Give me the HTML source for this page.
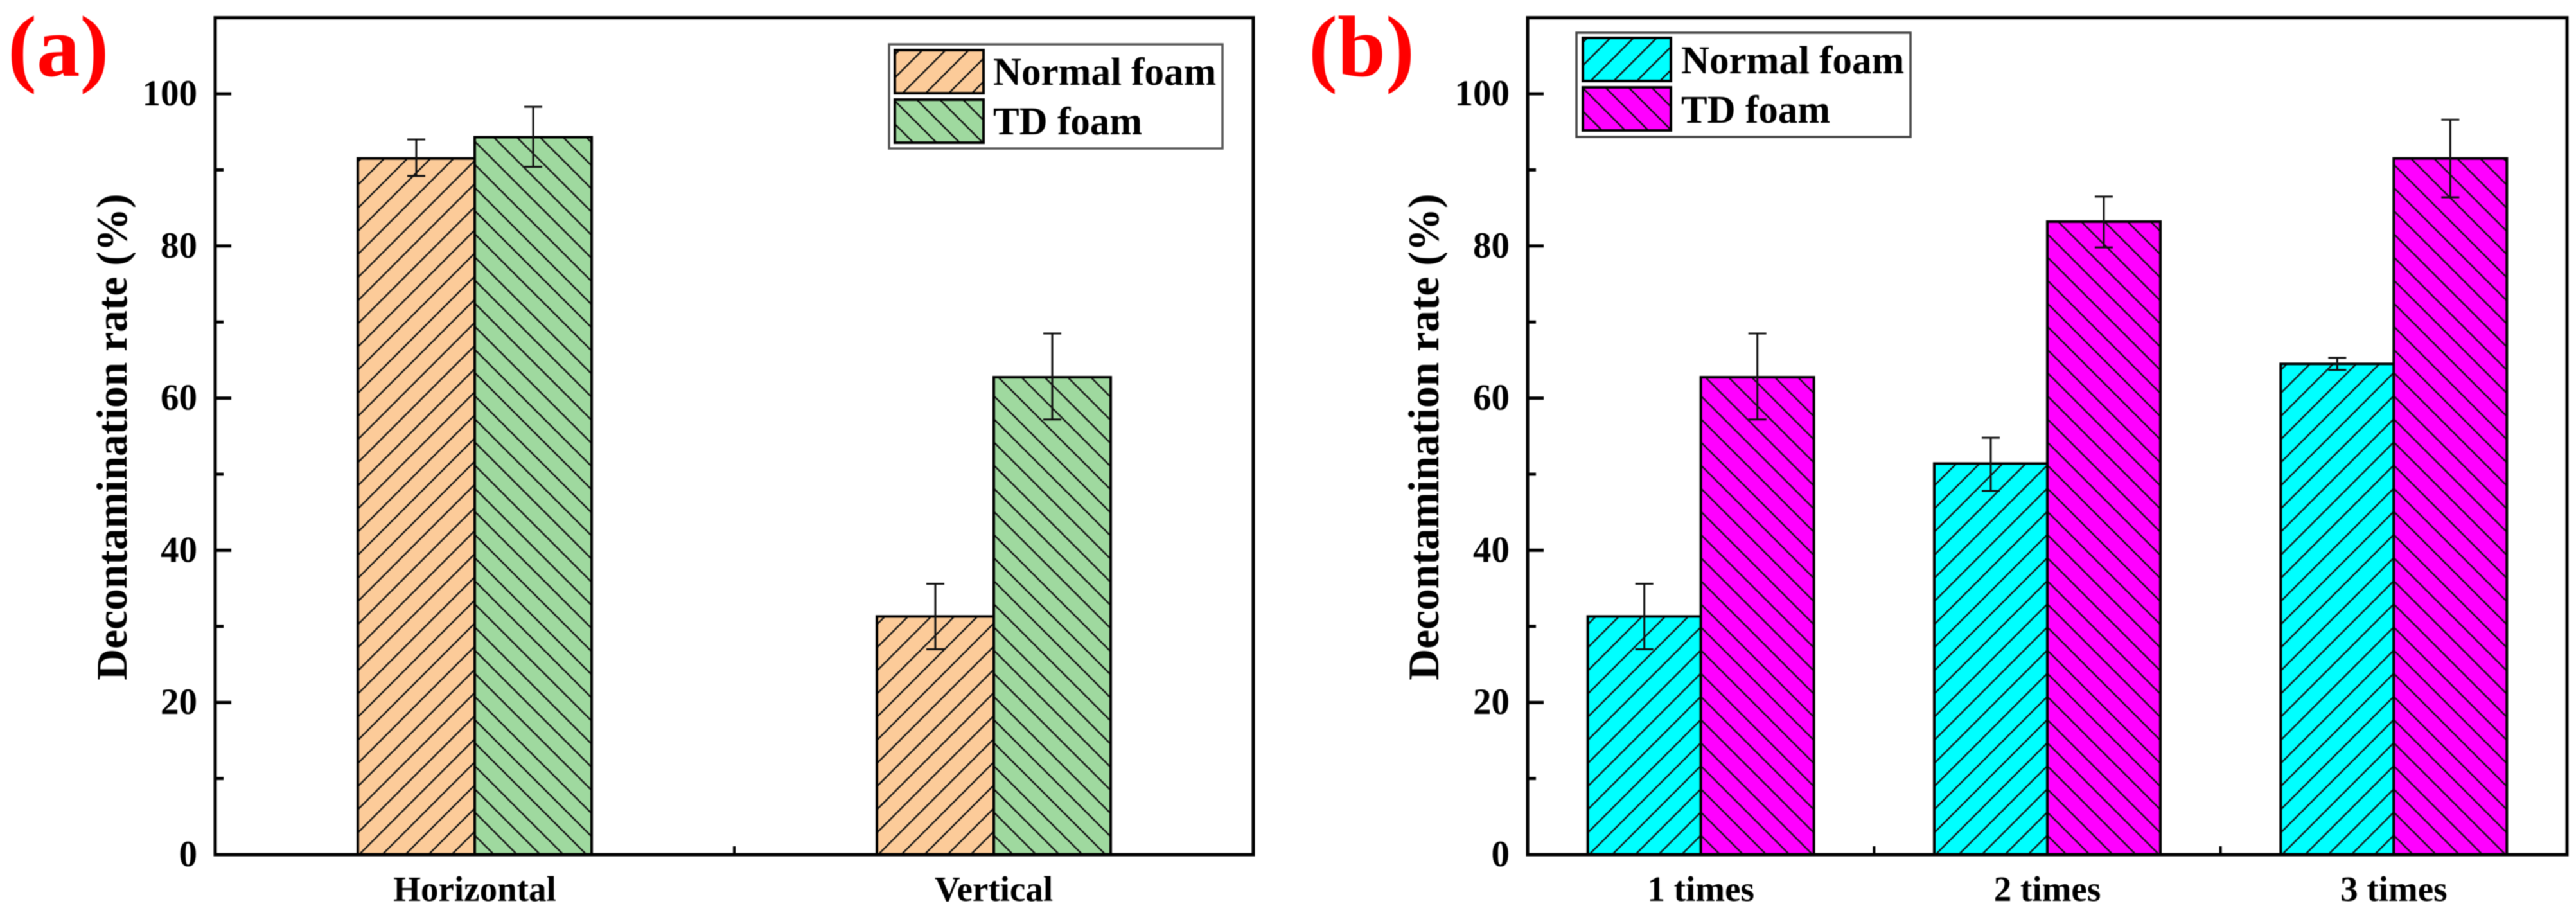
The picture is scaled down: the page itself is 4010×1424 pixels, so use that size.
<!DOCTYPE html>
<html lang="en">
<head>
<meta charset="utf-8">
<title>Decontamination rate bar charts</title>
<style>
html,body{margin:0;padding:0;background:#fff;}
svg{display:block;filter:blur(0.7px);}
text{font-family:"Liberation Serif",serif;font-weight:bold;fill:#000;}
</style>
</head>
<body>
<svg id="figure" xmlns="http://www.w3.org/2000/svg" width="4010" height="1424" viewBox="0 0 4010 1424">
  <defs id="defs">
    <pattern id="leg-a-normal" patternUnits="userSpaceOnUse" width="36" height="36" patternTransform="translate(1404 146)"><rect width="36" height="36" fill="#FCCB99"/><path d="M-4 40L40 -4" stroke="#111" stroke-width="2.5"/><path d="M-4 4L4 -4M32 40L40 32" stroke="#111" stroke-width="2.5"/></pattern>
    <pattern id="leg-a-td" patternUnits="userSpaceOnUse" width="36" height="36" patternTransform="translate(1422 222)"><rect width="36" height="36" fill="#9FD99F"/><path d="M-4 -4L40 40" stroke="#111" stroke-width="2.5"/><path d="M-4 32L4 40M32 -4L40 4" stroke="#111" stroke-width="2.5"/></pattern>
    <pattern id="leg-b-normal" patternUnits="userSpaceOnUse" width="36" height="36" patternTransform="translate(2475 127)"><rect width="36" height="36" fill="#00FFFF"/><path d="M-4 40L40 -4" stroke="#111" stroke-width="2.5"/><path d="M-4 4L4 -4M32 40L40 32" stroke="#111" stroke-width="2.5"/></pattern>
    <pattern id="leg-b-td" patternUnits="userSpaceOnUse" width="36" height="36" patternTransform="translate(2494 203)"><rect width="36" height="36" fill="#FF00FF"/><path d="M-4 -4L40 40" stroke="#111" stroke-width="2.5"/><path d="M-4 32L4 40M32 -4L40 4" stroke="#111" stroke-width="2.5"/></pattern>
  </defs>

  <g id="panel-a"></g>
  <g id="panel-b"></g>

  <text x="12" y="118" font-size="135" style="fill:#FF0000">(a)</text>
  <text x="2037" y="118" font-size="135" style="fill:#FF0000">(b)</text>

  <text transform="translate(197 680) rotate(-90)" text-anchor="middle" font-size="67.5">Decontamination rate (%)</text>
  <text transform="translate(2239 680) rotate(-90)" text-anchor="middle" font-size="67.5">Decontamination rate (%)</text>

  <g>
    <rect x="1384" y="69" width="519" height="162" fill="#fff" stroke="#555" stroke-width="3.5"/>
    <rect x="1393" y="78" width="138" height="67" fill="url(#leg-a-normal)" stroke="#000" stroke-width="4"/>
    <text x="1546" y="132" font-size="61">Normal foam</text>
    <rect x="1393" y="155" width="138" height="67" fill="url(#leg-a-td)" stroke="#000" stroke-width="4"/>
    <text x="1546" y="209" font-size="61">TD foam</text>
  </g>
  <g>
    <rect x="2454" y="51" width="520" height="162" fill="#fff" stroke="#444" stroke-width="3.5"/>
    <rect x="2464" y="59" width="137" height="67" fill="url(#leg-b-normal)" stroke="#000" stroke-width="4"/>
    <text x="2617" y="114" font-size="61">Normal foam</text>
    <rect x="2464" y="136" width="137" height="67" fill="url(#leg-b-td)" stroke="#000" stroke-width="4"/>
    <text x="2617" y="191" font-size="61">TD foam</text>
  </g>
</svg>

<script>
// ---- chart values ----
var yTickValues = [0, 20, 40, 60, 80, 100];
var yTickLabels = ['0', '20', '40', '60', '80', '100'];
var yMinorValues = [10, 30, 50, 70, 90];

var categoriesA = ['Horizontal', 'Vertical'];
var normalFoamA = [91.5, 31.3];
var normalHighA = [94.0, 35.6];
var normalLowA  = [89.2, 27.0];
var tdFoamA     = [94.3, 62.75];
var tdHighA     = [98.3, 68.5];
var tdLowA      = [90.4, 57.2];

var categoriesB = ['1 times', '2 times', '3 times'];
var normalFoamB = [31.3, 51.4, 64.5];
var normalHighB = [35.6, 54.8, 65.3];
var normalLowB  = [27.0, 47.8, 63.7];
var tdFoamB     = [62.75, 83.2, 91.5];
var tdHighB     = [68.5, 86.5, 96.6];
var tdLowB      = [57.2, 79.8, 86.4];

// ---- shared axis settings ----
var Y_MAX = 110;
var PLOT_TOP = 27.6;
var PLOT_BOTTOM = 1330;
var HATCH = 36;
var SVGNS = 'http://www.w3.org/2000/svg';

function yScale(v) {
  return PLOT_BOTTOM - (v / Y_MAX) * (PLOT_BOTTOM - PLOT_TOP);
}

function make(tag, attrs) {
  var node = document.createElementNS(SVGNS, tag);
  for (var k in attrs) node.setAttribute(k, attrs[k]);
  return node;
}

function makeHatch(id, fill, up, x0, y0) {
  var p = make('pattern', {id: id, patternUnits: 'userSpaceOnUse', width: HATCH, height: HATCH,
    patternTransform: 'translate(' + x0 + ' ' + y0 + ')'});
  p.appendChild(make('rect', {width: HATCH, height: HATCH, fill: fill}));
  var d = up
    ? 'M-4 ' + (HATCH + 4) + 'L' + (HATCH + 4) + ' -4M-4 4L4 -4M' + (HATCH - 4) + ' ' + (HATCH + 4) + 'L' + (HATCH + 4) + ' ' + (HATCH - 4)
    : 'M-4 -4L' + (HATCH + 4) + ' ' + (HATCH + 4) + 'M-4 ' + (HATCH - 4) + 'L4 ' + (HATCH + 4) + 'M' + (HATCH - 4) + ' -4L' + (HATCH + 4) + ' 4';
  p.appendChild(make('path', {d: d, stroke: '#141414', 'stroke-width': 2.5, fill: 'none'}));
  document.getElementById('defs').appendChild(p);
}

function drawBar(root, prefix, series, i, left, width, value, fill, up, offset) {
  var id = prefix + '-' + series + '-hatch-' + i;
  makeHatch(id, fill, up, left + offset, PLOT_BOTTOM);
  var top = yScale(value);
  var bar = make('rect', {x: left, y: top, width: width, height: PLOT_BOTTOM - top,
    fill: 'url(#' + id + ')', stroke: '#000', 'stroke-width': 4});
  
  
  root.appendChild(bar);
}

function drawError(root, prefix, series, i, cx, high, low) {
  var err = make('path', {
    d: 'M' + cx + ' ' + yScale(high) + 'V' + yScale(low) +
       'M' + (cx - 14) + ' ' + yScale(high) + 'H' + (cx + 14) +
       'M' + (cx - 14) + ' ' + yScale(low) + 'H' + (cx + 14),
    stroke: '#111', 'stroke-width': 3, fill: 'none'});
  
  
  root.appendChild(err);
}

function drawPanel(rootId, prefix, left, right, barWidth, colors, cats, nv, nh, nl, tv, th, tl) {
  var root = document.getElementById(rootId);
  var n = cats.length;
  var step = (right - left) / n;
  function xScale(i) { return left + (i + 0.5) * step; }

  // x-axis minor ticks, between categories
  for (var m = 1; m < n; m++) {
    var mx = left + m * step;
    var minorX = make('line', {x1: mx, x2: mx, y1: PLOT_BOTTOM, y2: PLOT_BOTTOM - 13, stroke: '#000', 'stroke-width': 4});
    
    
    root.appendChild(minorX);
  }

  // bars, then error bars
  for (var i = 0; i < n; i++) {
    var c = xScale(i);
    drawBar(root, prefix, 'normal', i, c - barWidth, barWidth, nv[i], colors[0], true, 2);
    drawBar(root, prefix, 'td', i, c, barWidth, tv[i], colors[1], false, 30);
    drawError(root, prefix, 'normal', i, c - barWidth / 2, nh[i], nl[i]);
    drawError(root, prefix, 'td', i, c + barWidth / 2, th[i], tl[i]);

    var cat = make('text', {x: c, y: 1402, 'text-anchor': 'middle', 'font-size': 55});
    cat.textContent = cats[i];
    
    
    root.appendChild(cat);
  }

  // y ticks
  for (var t = 0; t < yTickValues.length; t++) {
    var ty = yScale(yTickValues[t]);
    var tick = make('line', {x1: left, x2: left + 25, y1: ty, y2: ty, stroke: '#000', 'stroke-width': 5});
    
    
    root.appendChild(tick);

    var lab = make('text', {x: left - 28, y: ty + 18, 'text-anchor': 'end', 'font-size': 57});
    lab.textContent = yTickLabels[t];
    
    
    root.appendChild(lab);
  }
  for (var u = 0; u < yMinorValues.length; u++) {
    var uy = yScale(yMinorValues[u]);
    var minor = make('line', {x1: left, x2: left + 13, y1: uy, y2: uy, stroke: '#000', 'stroke-width': 5});
    
    
    root.appendChild(minor);
  }

  // plot frame on top
  var frame = make('rect', {x: left, y: PLOT_TOP, width: right - left, height: PLOT_BOTTOM - PLOT_TOP,
    fill: 'none', stroke: '#000', 'stroke-width': 5});
  
  
  root.appendChild(frame);
}

drawPanel('panel-a', 'panel-a', 335, 1951, 182, ['#FCCB99', '#9FD99F'],
  categoriesA, normalFoamA, normalHighA, normalLowA, tdFoamA, tdHighA, tdLowA);
drawPanel('panel-b', 'panel-b', 2378, 3996, 176, ['#00FFFF', '#FF00FF'],
  categoriesB, normalFoamB, normalHighB, normalLowB, tdFoamB, tdHighB, tdLowB);
</script>
</body>
</html>
